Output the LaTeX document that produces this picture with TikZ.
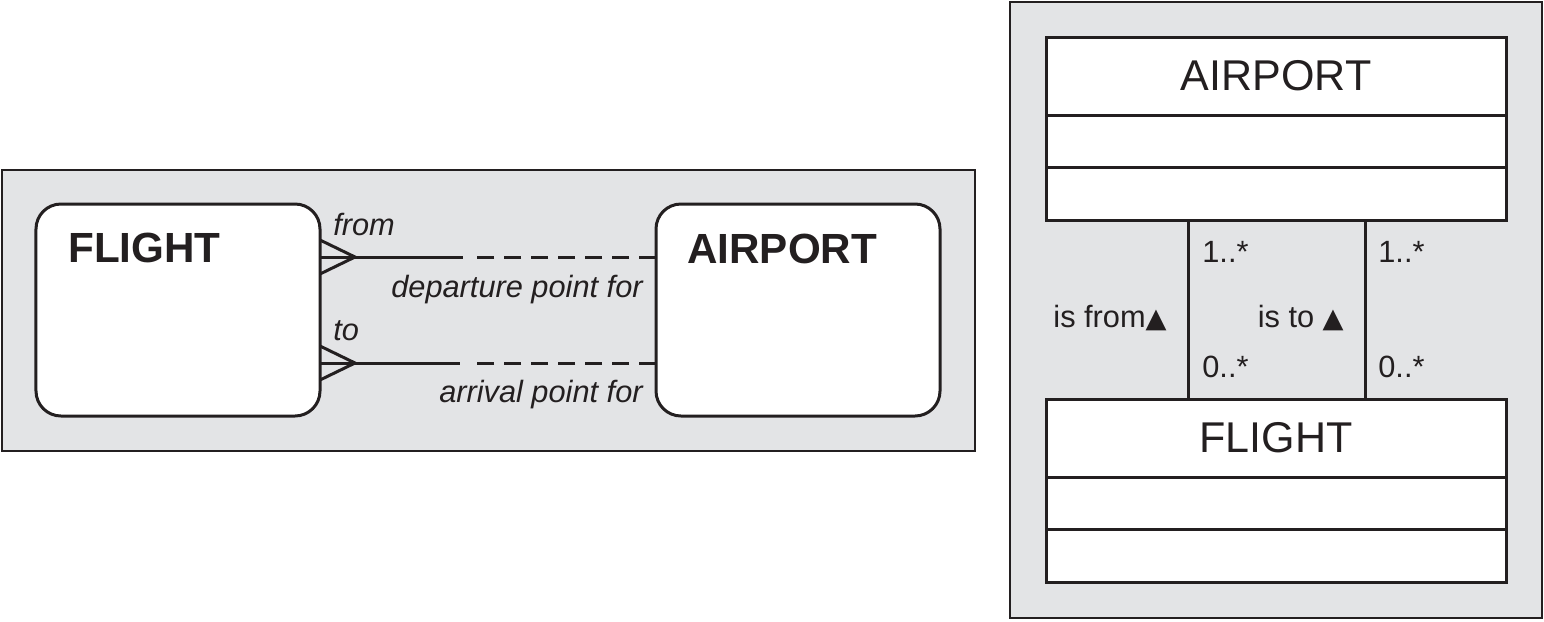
\documentclass[tikz,border=0pt]{standalone}
\usepackage{fontspec}
\setmainfont{Liberation Sans}
\newfontfamily\symfont{DejaVu Sans}
\usepackage{tikz}
\usetikzlibrary{positioning,calc}
\definecolor{panelgray}{RGB}{227,228,230}
\definecolor{ink}{RGB}{35,31,32}

\begin{document}
\begin{tikzpicture}[
  x=0.2mm, y=-0.2mm,
  panel/.style={draw=ink,line width=0.4mm,fill=panelgray},
  entity/.style={draw=ink,line width=0.6mm,fill=white,rounded corners=5mm,minimum width=56.8mm,minimum height=42.4mm,inner sep=0pt,outer sep=0pt},
  ename/.style={font=\fontsize{24}{28}\selectfont\bfseries,text=ink,anchor=base west,inner sep=0pt},
  cname/.style={draw=ink,line width=0.6mm,fill=white,minimum width=92mm,minimum height=15.6mm,inner sep=0pt,outer sep=0pt,font=\fontsize{24.5}{28}\selectfont,text=ink},
  cpart/.style={draw=ink,line width=0.6mm,fill=white,minimum width=92mm,minimum height=10.5mm,inner sep=0pt,outer sep=0pt},
  rel/.style={draw=ink,line width=0.6mm},
  optional/.style={rel,dash pattern=on 3.4mm off 2mm},
  lbl/.style={font=\fontsize{17.5}{20}\selectfont\itshape,text=ink,inner sep=0pt},
  mult/.style={font=\fontsize{17.5}{20}\selectfont,text=ink,inner sep=0pt}
]
  \useasboundingbox (0,0) rectangle (1544,621);
  \draw[panel] (2,170) rectangle (975,451);
  \draw[panel] (1010,2) rectangle (1542,618);

  \node[entity] (flight)  at (178,310) {};
  \node[entity] (airport) at (798,310) {};
  \node[ename] at ($(flight.north west)+(32,58)$)  {FLIGHT};
  \node[ename] at ($(airport.north west)+(31,59)$) {AIRPORT};

  \coordinate (f1) at ($(flight.east)+(0,-53)$);
  \coordinate (a1) at ($(airport.west)+(0,-53)$);
  \coordinate (f2) at ($(flight.east)+(0,53)$);
  \coordinate (a2) at ($(airport.west)+(0,53)$);

  \draw[rel] ($(f1)+(0,-17)$) -- ($(f1)+(35,0)$) -- ($(f1)+(0,17)$);
  \draw[rel] (f1) -- ($(f1)+(143,0)$);
  \draw[optional] (a1) -- ($(f1)+(150,0)$);
  \draw[rel] ($(f2)+(0,-17)$) -- ($(f2)+(35,0)$) -- ($(f2)+(0,17)$);
  \draw[rel] (f2) -- ($(f2)+(140,0)$);
  \draw[optional] (a2) -- ($(f2)+(150,0)$);

  \node[lbl,anchor=base west] at ($(f1)+(13,-22)$) {from};
  \node[lbl,anchor=base east] at ($(a1)+(-13,40)$) {departure point for};
  \node[lbl,anchor=base west] at ($(f2)+(13,-23)$) {to};
  \node[lbl,anchor=base east] at ($(a2)+(-13,39)$) {arrival point for};

  \node[cname] (ap) at (1276,76) {AIRPORT};
  \node[cpart,below=0pt of ap]  (ap1) {};
  \node[cpart,below=0pt of ap1] (ap2) {};
  \node[cname] (fl) at (1276,438) {FLIGHT};
  \node[cpart,below=0pt of fl]  (fl1) {};
  \node[cpart,below=0pt of fl1] (fl2) {};

  \draw[rel] ($(ap2.south)+(-88,0)$) -- ($(fl.north)+(-88,0)$);
  \draw[rel] ($(ap2.south)+(89,0)$) -- ($(fl.north)+(89,0)$);

  \node[mult,anchor=base west] at ($(ap2.south)+(-74,42)$) {1..*};
  \node[mult,anchor=base west] at ($(fl.north)+(-74,-22)$) {0..*};
  \node[mult,anchor=base west] at ($(ap2.south)+(102,42)$) {1..*};
  \node[mult,anchor=base west] at ($(fl.north)+(102,-22)$) {0..*};
  \node[mult,anchor=base east] at ($(ap2.south)+(-109,107)$) {is from{\symfont\fontsize{15.5}{18}\selectfont ▲}};
  \node[mult,anchor=base east] at ($(ap2.south)+(68,107)$) {is to {\symfont\fontsize{15.5}{18}\selectfont ▲}};
\end{tikzpicture}
\end{document}
